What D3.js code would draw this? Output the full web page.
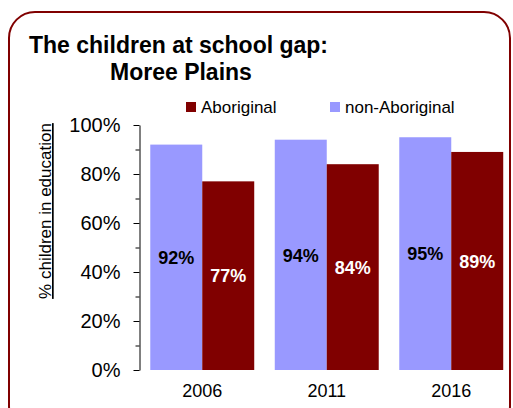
<!DOCTYPE html>
<html><head><meta charset="utf-8">
<script src="https://cdn.jsdelivr.net/npm/d3@7"></script>
<style>html,body{margin:0;padding:0;background:#fff;}svg{display:block;font-family:"Liberation Sans",Arial,sans-serif;}</style>
</head><body>
<svg id="c" width="513" height="408"></svg>
<script>
const years = ["2006", "2011", "2016"];
const seriesNames = ["non-Aboriginal", "Aboriginal"];
const nonAboriginal = [92, 94, 95];
const aboriginal = [77, 84, 89];
const yTicks = [0, 20, 40, 60, 80, 100];
const minorTicks = [10, 30, 50, 70, 90];
const colors = {"non-Aboriginal": "#9999FF", "Aboriginal": "#800000"};
const labelColors = {"non-Aboriginal": "#000", "Aboriginal": "#fff"};

const svg = d3.select("#c");
svg.append("rect").attr("x", 9).attr("y", 12).attr("width", 501).attr("height", 420)
  .attr("rx", 26).attr("ry", 26).attr("fill", "#fff").attr("stroke", "#800000").attr("stroke-width", 2);

svg.append("text").attr("x", 29).attr("y", 53).attr("font-size", 23).attr("font-weight", "bold")
  .text("The children at school gap:");
svg.append("text").attr("x", 110).attr("y", 80).attr("font-size", 23).attr("font-weight", "bold")
  .text("Moree Plains");

const x0 = d3.scaleBand().domain(years).range([140, 513.5]).paddingInner(0.165).paddingOuter(0.0825);
const x1 = d3.scaleBand().domain(seriesNames).range([0, x0.bandwidth()]);
const y = d3.scaleLinear().domain([0, 100]).range([370, 125]);

const data = years.map((yr, i) => ({year: yr, values: [
  {name: "non-Aboriginal", v: nonAboriginal[i]},
  {name: "Aboriginal", v: aboriginal[i]}
]}));

const g = svg.selectAll("g.grp").data(data).enter().append("g")
  .attr("transform", d => `translate(${x0(d.year)},0)`);
g.selectAll("rect").data(d => d.values).enter().append("rect")
  .attr("x", d => x1(d.name)).attr("y", d => y(d.v))
  .attr("width", x1.bandwidth()).attr("height", d => y(0) - y(d.v))
  .attr("fill", d => colors[d.name]);
g.selectAll("text").data(d => d.values).enter().append("text")
  .attr("x", d => x1(d.name) + x1.bandwidth() / 2)
  .attr("y", d => (y(d.v) + y(0)) / 2 + 2)
  .attr("text-anchor", "middle").attr("dominant-baseline", "middle")
  .attr("font-size", 18).attr("font-weight", "bold")
  .attr("fill", d => labelColors[d.name]).text(d => d.v + "%");

// y axis
const yAxis = d3.axisLeft(y).tickValues(yTicks).tickFormat(d => d + "%").tickSize(6).tickPadding(13).tickSizeOuter(0);
const ya = svg.append("g").attr("transform", "translate(139.5,0)").call(yAxis);
ya.selectAll("text").attr("font-size", 20).attr("fill", "#000").attr("font-family", "Liberation Sans, Arial, sans-serif");
ya.select(".domain").attr("stroke", "#000");
ya.selectAll(".tick line").attr("stroke", "#000");
const ym = d3.axisLeft(y).tickValues(minorTicks).tickFormat("").tickSize(4).tickSizeOuter(0);
const ymg = svg.append("g").attr("transform", "translate(139.5,0)").call(ym);
ymg.select(".domain").remove();
ymg.selectAll(".tick line").attr("stroke", "#000");

// x axis labels
const xAxis = d3.axisBottom(x0).tickSize(0).tickPadding(14);
const xa = svg.append("g").attr("transform", "translate(0,370)").call(xAxis);
xa.select(".domain").remove();
xa.selectAll("text").attr("font-size", 18).attr("fill", "#000").attr("font-family", "Liberation Sans, Arial, sans-serif");

// y title
const yt = svg.append("text").attr("transform", "translate(51,211) rotate(-90)")
  .attr("text-anchor", "middle").attr("font-size", 17).attr("text-decoration", "underline")
  .text("% children in education");

// legend
const legendItems = [{name: "Aboriginal", x: 186}, {name: "non-Aboriginal", x: 330}];
const lg = svg.selectAll("g.lg").data(legendItems).enter().append("g")
  .attr("transform", d => `translate(${d.x},102)`);
lg.append("rect").attr("width", 10).attr("height", 10).attr("fill", d => colors[d.name]);
lg.append("text").attr("x", 15).attr("y", 11).attr("font-size", 17).text(d => d.name);
</script>
</body></html>
